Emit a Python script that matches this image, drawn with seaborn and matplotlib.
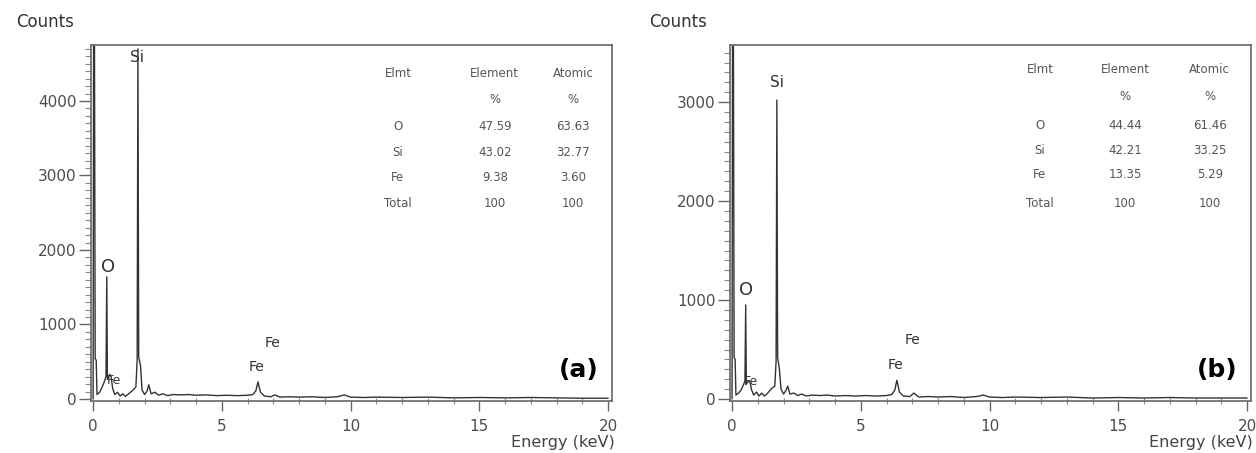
import numpy as np
import pandas as pd
import matplotlib
matplotlib.use("Agg")
import matplotlib.pyplot as plt
import seaborn as sns
from matplotlib.ticker import MultipleLocator

# spectrum (a)
energy_a = [0.00, 0.02, 0.05, 0.08, 0.12, 0.15, 0.25, 0.35, 0.42, 0.50, 0.53, 0.555, 0.64, 0.70,
            0.76, 0.84, 0.95, 1.05, 1.15, 1.25, 1.35, 1.45, 1.55, 1.66, 1.71, 1.74, 1.77, 1.84,
            1.90, 2.00, 2.10, 2.16, 2.25, 2.40, 2.55, 2.70, 2.90, 3.10, 3.40, 3.70, 4.00, 4.40,
            4.80, 5.20, 5.60, 6.00, 6.20, 6.32, 6.40, 6.50, 6.65, 6.90, 7.06, 7.25, 7.60, 8.00,
            8.50, 9.00, 9.50, 9.75, 10.0, 10.5, 11.0, 12.0, 13.0, 14.0, 15.0, 16.0, 17.0, 18.0,
            19.0, 20.0]
counts_a = [0, 5200, 5200, 540, 520, 60, 90, 160, 220, 300, 1640, 260, 330, 300,
            140, 60, 90, 40, 70, 35, 60, 90, 120, 160, 520, 4700, 560, 450,
            120, 60, 110, 190, 70, 90, 50, 70, 45, 60, 55, 60, 50, 55,
            45, 50, 45, 50, 60, 110, 230, 90, 40, 30, 55, 25, 30, 25,
            30, 20, 30, 55, 25, 20, 25, 20, 25, 15, 20, 15, 20, 15,
            10, 10]

# spectrum (b)
energy_b = energy_a
counts_b = [0, 4000, 4000, 420, 400, 40, 60, 90, 130, 180, 950, 150, 180, 170,
            90, 40, 70, 30, 60, 30, 50, 80, 110, 130, 380, 3020, 420, 300,
            100, 50, 90, 130, 50, 60, 35, 50, 30, 40, 35, 40, 30, 35,
            30, 35, 30, 35, 45, 90, 190, 70, 30, 25, 60, 20, 25, 20,
            25, 15, 25, 40, 20, 15, 20, 15, 20, 10, 15, 10, 15, 10,
            10, 10]

# composition tables
elements = ["O", "Si", "Fe", "Total"]
element_pct_a = ["47.59", "43.02", "9.38", "100"]
atomic_pct_a = ["63.63", "32.77", "3.60", "100"]
element_pct_b = ["44.44", "42.21", "13.35", "100"]
atomic_pct_b = ["61.46", "33.25", "5.29", "100"]

# peak labels: (text, energy, counts, size)
peaks_a = [("Si", 1.71, 4590, 11), ("O", 0.58, 1770, 13), ("Fe", 0.82, 250, 9),
           ("Fe", 6.35, 430, 10), ("Fe", 6.95, 750, 10)]
peaks_b = [("Si", 1.74, 3200, 11), ("O", 0.54, 1100, 13), ("Fe", 0.72, 180, 9),
           ("Fe", 6.35, 340, 10), ("Fe", 7.0, 600, 10)]

sns.set_style("ticks")
plt.rcParams['font.family'] = ['DejaVu Sans']

txt = '#4d4d4d'
fig = plt.figure(figsize=(12.56, 4.53), dpi=100)
ax_a = fig.add_axes([0.0725, 0.1148, 0.4148, 0.7859])
ax_b = fig.add_axes([0.5812, 0.1148, 0.4148, 0.7859])


def draw(ax, energy, counts, ylim, ymax_tick, peaks, el_pct, at_pct, tag, rows_y, cols_x):
    df = pd.DataFrame({'Energy': energy, 'Counts': counts})
    sns.lineplot(data=df, x='Energy', y='Counts', ax=ax, color='#333333', lw=1.0,
                 estimator=None, sort=False)
    ax.set_xlim(-0.08, 20.15)
    ax.set_ylim(*ylim)
    ax.set_xticks([0, 5, 10, 15, 20])
    ax.set_yticks(np.arange(0, ymax_tick + 1, 1000))
    ax.xaxis.set_minor_locator(MultipleLocator(1))
    ax.yaxis.set_minor_locator(MultipleLocator(100))
    ax.tick_params(axis='both', which='major', length=9, width=1, color='#666666',
                   labelcolor=txt, labelsize=11)
    ax.tick_params(axis='y', which='major', pad=1.5)
    ax.tick_params(axis='x', which='major', pad=6, length=7)
    ax.tick_params(axis='y', which='minor', length=4, width=0.8, color='#888888')
    ax.tick_params(axis='x', which='minor', length=5, width=0.8, color='#888888', direction='inout')
    ax.set_xlabel('')
    ax.set_ylabel('')
    for s in ax.spines.values():
        s.set_color('#666666')
        s.set_linewidth(1.2)

    for label, x, y, size in peaks:
        ax.text(x, y, label, fontsize=size, color='#333333', ha='center', va='center')

    header = [("Elmt", "Element", "Atomic"), ("", "%", "%")]
    table_rows = header + list(zip(elements, el_pct, at_pct))
    for row, y in zip(table_rows, rows_y):
        for cell, x in zip(row, cols_x):
            ax.text(x, y, cell, transform=ax.transAxes, fontsize=8.5, color='#555555',
                    ha='center', va='center')

    ax.text(0.975, 0.087, tag, transform=ax.transAxes, fontsize=18, fontweight='bold',
            ha='right', va='center', color='black')


draw(ax_a, energy_a, counts_a, (-27, 4752), 4000, peaks_a, element_pct_a, atomic_pct_a, "(a)",
     [0.921, 0.846, 0.770, 0.697, 0.629, 0.556], [0.589, 0.775, 0.925])
draw(ax_b, energy_b, counts_b, (-20, 3577), 3000, peaks_b, element_pct_b, atomic_pct_b, "(b)",
     [0.930, 0.854, 0.775, 0.705, 0.635, 0.556], [0.595, 0.758, 0.921])

fig.text(0.0358, 0.951, "Counts", fontsize=12, color='#333333', ha='center', va='center')
fig.text(0.540, 0.951, "Counts", fontsize=12, color='#333333', ha='center', va='center')
fig.text(0.4896, 0.024, "Energy (keV)", fontsize=11.5, color='#444444', ha='right', va='center')
fig.text(0.9976, 0.024, "Energy (keV)", fontsize=11.5, color='#444444', ha='right', va='center')

fig.savefig("out.png", dpi=100, facecolor='white')
